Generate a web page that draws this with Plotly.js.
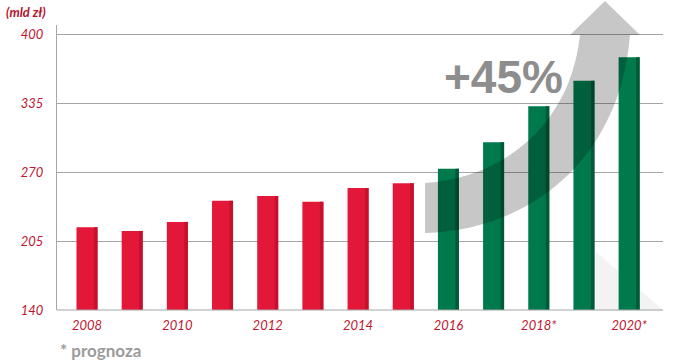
<!DOCTYPE html>
<html>
<head>
<meta charset="utf-8">
<script src="https://cdn.plot.ly/plotly-3.0.1.min.js"></script>
<style>html,body{margin:0;padding:0;background:#fff;}#chart{width:680px;height:362px;}</style>
</head>
<body>
<div id="chart"></div>
<script>
// Data
const years = ['2008','2009','2010','2011','2012','2013','2014','2015','2016','2017','2018*','2019*','2020*'];
const values = [218, 214.5, 223, 243, 247.5, 242, 255, 259.5, 273, 298, 332, 356, 378];
const isForecastGroup = [0,0,0,0,0,0,0,0,1,1,1,1,1];
const tickVals = [0,2,4,6,8,10,12];
const tickLabels = ['2008','2010','2012','2014','2016','2018*','2020*'];
const yTicks = [140,205,270,335,400];

const xIdx = years.map((_, i) => i);
const mainCol = isForecastGroup.map(g => g ? '#007a4d' : '#e31838');
const darkCol = isForecastGroup.map(g => g ? '#005a37' : '#c5102e');

// pixel -> paper helpers (plot area 57..663 x, 25..310 y)
const L = 57, R = 663, T = 25, B = 310;
const px = x => ((x - L) / (R - L)).toFixed(4);
const py = y => ((B - y) / (B - T)).toFixed(4);

const BW = 0.465, SW = 0.078;

const traces = [
  {type:'bar', x:xIdx, y:values, base:0, width:BW, offset:-BW/2,
   marker:{color:mainCol, line:{width:0}}, hoverinfo:'skip'},
  {type:'bar', x:xIdx, y:values, width:SW, offset:BW/2 - SW,
   marker:{color:darkCol, line:{width:0}}, hoverinfo:'skip'}
];

const arrowPath =
  'M ' + px(425) + ',' + py(233) +
  ' C ' + px(530) + ',' + py(230) + ' ' + px(620) + ',' + py(160) + ' ' + px(630) + ',' + py(35) +
  ' L ' + px(640) + ',' + py(35) +
  ' L ' + px(605) + ',' + py(1) +
  ' L ' + px(570) + ',' + py(35) +
  ' L ' + px(580) + ',' + py(35) +
  ' C ' + px(570) + ',' + py(128) + ' ' + px(500) + ',' + py(178) + ' ' + px(425) + ',' + py(183) + ' Z';

const bgPath = 'M ' + px(596) + ',' + py(252) + ' L ' + px(664) + ',' + py(311) + ' L ' + px(596) + ',' + py(311) + ' Z';

const tickFont = {family:'Lato, "DejaVu Sans", sans-serif', size:13, color:'#c0152f', style:'italic'};

const layout = {
  width:680, height:362,
  margin:{l:L, r:680-R, t:T, b:362-B, pad:0},
  paper_bgcolor:'#ffffff', plot_bgcolor:'rgba(0,0,0,0)',
  barmode:'overlay', showlegend:false,
  xaxis:{range:[-0.664, 12.75], tickvals:tickVals, ticktext:tickLabels, showgrid:false,
         zeroline:false, showline:false, ticks:'', tickfont:tickFont, fixedrange:true,
         ticklabelstandoff:6},
  yaxis:{range:[140, 408.5], tickvals:yTicks, ticktext:yTicks.map(String), showgrid:true,
         gridcolor:'#a6a6a6', gridwidth:1, zeroline:false, showline:true, linecolor:'#a6a6a6',
         linewidth:1, ticks:'', tickfont:tickFont, ticklabelstandoff:10, fixedrange:true},
  shapes:[
    {type:'path', xref:'paper', yref:'paper', path:bgPath, fillcolor:'#f3f3f3', line:{width:0}, layer:'below'},
    {type:'path', xref:'paper', yref:'paper', path:arrowPath, fillcolor:'rgba(0,0,0,0.22)', line:{width:0}, layer:'above'},
    {type:'line', xref:'paper', yref:'paper', x0:0, x1:1, y0:0, y1:0, line:{color:'#a6a6a6', width:1}, layer:'above'}
  ],
  annotations:[
    {text:'(mld zł)', xref:'paper', yref:'paper', x:px(4), y:py(12), xanchor:'left', yanchor:'middle',
     showarrow:false, font:{family:'Lato, "DejaVu Sans", sans-serif', size:13, color:'#b5122d', style:'italic', weight:700}},
    {text:'+45%', xref:'paper', yref:'paper', x:px(504), y:py(77), xanchor:'center', yanchor:'middle',
     showarrow:false, font:{family:'"Liberation Sans", Arial, sans-serif', size:46, color:'#8d8d8d', weight:700}},
    {text:'* prognoza', xref:'paper', yref:'paper', x:px(58), y:py(350), xanchor:'left', yanchor:'middle',
     showarrow:false, font:{family:'Lato, "DejaVu Sans", sans-serif', size:17, color:'#9b9b9b', weight:700}}
  ]
};

Plotly.newPlot('chart', traces, layout, {staticPlot:true, displayModeBar:false});
</script>
</body>
</html>
